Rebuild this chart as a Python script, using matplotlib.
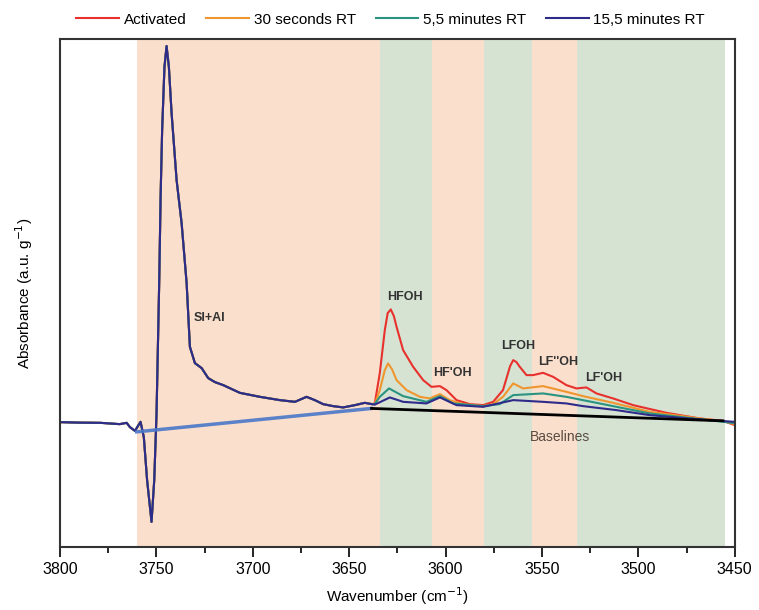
import matplotlib
matplotlib.use("Agg")
import matplotlib.pyplot as plt
from matplotlib.ticker import MultipleLocator

# OH stretching region, absorbance per gram (arbitrary units)
# part of the spectrum shared by all four samples
wn_common = [3800, 3790, 3779, 3769, 3765.4, 3763.7, 3761.1, 3758.2, 3756.5, 3754.8,
             3752.5, 3751.1, 3749.9, 3748.5, 3747.8, 3747.0, 3745.8, 3744.7, 3743.5,
             3742.1, 3739.5, 3736.9, 3734.3, 3732.6, 3730.0, 3726.5, 3723.1, 3719.6,
             3715.3, 3706.7, 3696.3, 3685.9, 3678.1, 3672.1, 3667.8, 3663.5, 3658.3,
             3653.1, 3647.0, 3641.9, 3638.2]
abs_common = [0.0, -0.005, -0.007, -0.02, -0.007, -0.05, -0.087, 0.003, -0.15, -0.58,
              -0.997, -0.58, 0.09, 1.42, 2.25, 2.92, 3.55, 3.76, 3.55,
              3.09, 2.42, 1.99, 1.39, 0.753, 0.59, 0.54, 0.44, 0.40,
              0.37, 0.293, 0.253, 0.22, 0.203, 0.253, 0.22, 0.18, 0.16,
              0.147, 0.17, 0.193, 0.18]

# sample-specific part below 3638 cm-1
wn_act = [3636.7, 3634.1, 3631.5, 3630.0, 3628.4, 3626.8, 3625.4, 3622.0, 3616.8,
          3611.6, 3607.3, 3602.9, 3599.5, 3594.3, 3587.4, 3580.5, 3575.3, 3570.2,
          3566.5, 3564.9, 3563.2, 3561.5, 3558.0, 3554.6, 3549.4, 3544.2, 3537.3,
          3532.1, 3526.9, 3521.7, 3513.1, 3502.7, 3485.4, 3468.2, 3456.1, 3450]
abs_act = [0.187, 0.49, 0.92, 1.09, 1.127, 1.06, 0.953, 0.72, 0.553,
           0.42, 0.353, 0.36, 0.32, 0.22, 0.18, 0.17, 0.203, 0.32,
           0.56, 0.62, 0.60, 0.553, 0.47, 0.47, 0.493, 0.453, 0.37,
           0.337, 0.347, 0.287, 0.237, 0.17, 0.093, 0.037, 0.013, -0.03]

wn_30s = [3636.7, 3634.1, 3631.5, 3629.8, 3627.8, 3625.4, 3620.2, 3613.3, 3608.2,
          3602.9, 3597.8, 3590.9, 3580.5, 3575.3, 3570.2, 3564.9, 3559.8, 3549.4,
          3537.3, 3528.7, 3513.1, 3494.1, 3468.2, 3456.2, 3450]
abs_30s = [0.18, 0.32, 0.52, 0.587, 0.53, 0.42, 0.32, 0.253, 0.237,
           0.28, 0.22, 0.18, 0.16, 0.18, 0.253, 0.387, 0.337, 0.36,
           0.303, 0.26, 0.193, 0.103, 0.037, 0.01, -0.02]

wn_5m = [3636.7, 3634.1, 3629.3, 3622.0, 3609.9, 3602.9, 3596.1, 3580.5, 3571.9,
         3564.9, 3549.4, 3537.3, 3528.7, 3511.3, 3494.1, 3468.2, 3450]
abs_5m = [0.18, 0.253, 0.337, 0.26, 0.203, 0.26, 0.187, 0.16, 0.18,
          0.27, 0.287, 0.253, 0.22, 0.153, 0.087, 0.03, -0.01]

wn_15m = [3636.7, 3628.9, 3622.0, 3609.9, 3602.9, 3594.3, 3580.5, 3564.9, 3549.4,
          3537.3, 3528.7, 3511.3, 3494.1, 3468.2, 3450]
abs_15m = [0.175, 0.247, 0.203, 0.187, 0.247, 0.17, 0.153, 0.22, 0.203,
           0.187, 0.16, 0.12, 0.07, 0.027, 0.003]

series_names = ["Activated", "30 seconds RT", "5,5 minutes RT", "15,5 minutes RT"]
series_colors = ["#e8302c", "#f0962e", "#2a9480", "#2e2b8a"]

# integration windows (orange = Si+Al / HF'OH / LF''OH, green = HFOH / LFOH / LF'OH)
band_edges = [3760, 3634, 3607, 3580, 3555, 3532, 3455]
band_colors = ["#fadfcd", "#d6e3d3"]

# baselines: below the Si+Al band and below the OH bands
base_blue_wn = [3760.2, 3638.4]
base_blue_abs = [-0.097, 0.137]
base_black_wn = [3638.4, 3456.1]
base_black_abs = [0.137, 0.013]

peak_labels = [("SI+AI", 3722.2, 1.04), ("HFOH", 3621.1, 1.25), ("HF'OH", 3596.2, 0.49),
               ("LFOH", 3562.5, 0.76), ("LF''OH", 3541.8, 0.60), ("LF'OH", 3517.9, 0.44)]

plt.rcParams["font.family"] = ["Liberation Sans", "DejaVu Sans"]

fig = plt.figure(figsize=(7.59, 6.10), dpi=100)
ax = fig.add_axes([0.079, 0.103, 0.889, 0.833])

for i in range(len(band_edges) - 1):
    ax.axvspan(band_edges[i], band_edges[i + 1], color=band_colors[i % 2], lw=0, zorder=0)

tails = [(wn_act, abs_act), (wn_30s, abs_30s), (wn_5m, abs_5m), (wn_15m, abs_15m)]
for (wn, ab), name, col in zip(tails, series_names, series_colors):
    ax.plot(wn_common + wn, abs_common + ab, color=col, lw=1.5, label=name, zorder=2)

ax.plot(base_blue_wn, base_blue_abs, color="#4a78c8", lw=2.5, alpha=0.9, zorder=3)
ax.plot(base_black_wn, base_black_abs, color="black", lw=2.0, zorder=3)

for txt, x, y in peak_labels:
    ax.text(x, y, txt, ha="center", va="center", fontsize=9, fontweight="bold",
            color="#333333", zorder=4)
ax.text(3540.7, -0.15, "Baselines", ha="center", va="center", fontsize=10,
        color="#5a4a40", zorder=4)

ax.set_xlim(3800, 3450)
ax.set_ylim(-1.25, 3.83)
ax.xaxis.set_major_locator(MultipleLocator(50))
ax.xaxis.set_minor_locator(MultipleLocator(25))
ax.tick_params(axis="x", which="major", length=7, width=1.2, labelsize=11.5, pad=4)
ax.tick_params(axis="x", which="minor", length=4, width=1.2)
ax.set_yticks([])
for sp in ax.spines.values():
    sp.set_linewidth(1.5)
    sp.set_color("#333333")

ax.set_xlabel("Wavenumber (cm$^{-1}$)", fontsize=11, labelpad=6)
ax.set_ylabel("Absorbance (a.u. g$^{-1}$)", fontsize=11, labelpad=18)

ax.legend(loc="lower center", bbox_to_anchor=(0.49, 1.012), ncol=4, frameon=False,
          fontsize=11, handlelength=2.8, columnspacing=1.3, handletextpad=0.3,
          borderaxespad=0.0)

fig.savefig("out.png", dpi=100)
